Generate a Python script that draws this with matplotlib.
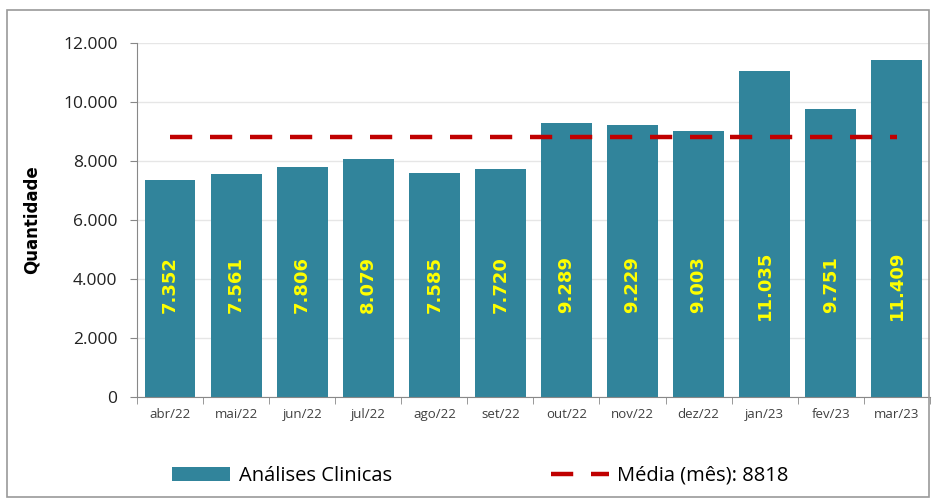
import matplotlib.pyplot as plt
from matplotlib.patches import Rectangle

months = ['abr/22', 'mai/22', 'jun/22', 'jul/22', 'ago/22', 'set/22',
          'out/22', 'nov/22', 'dez/22', 'jan/23', 'fev/23', 'mar/23']
values = [7352, 7561, 7806, 8079, 7585, 7720, 9289, 9229, 9003, 11035, 9751, 11409]
media = 8818
yticks = [0, 2000, 4000, 6000, 8000, 10000, 12000]
ytick_labels = ['0', '2.000', '4.000', '6.000', '8.000', '10.000', '12.000']

bar_color = '#31849B'
red = '#C00000'

fig = plt.figure(figsize=(9.36, 5.01), dpi=100)
ax = fig.add_axes([0.1464, 0.2076, 0.847, 0.7066])

# moldura do grafico
fig.patches.append(Rectangle((7 / 936, 1 - 497 / 501), 922 / 936, 487 / 501,
                             transform=fig.transFigure, fill=False,
                             edgecolor='#9a9a9a', linewidth=1.2))

x = list(range(len(months)))
bars = ax.bar(x, values, width=0.77, color=bar_color, label='Análises Clinicas', zorder=2)
line, = ax.plot([0, len(months) - 1], [media, media], color=red, linewidth=3.2,
                dashes=(5, 4), label='Média (mês): 8818', zorder=3)

for xi, v in zip(x, values):
    txt = f'{v:,}'.replace(',', '.')
    ax.text(xi, 3800, txt, rotation=90, ha='center', va='center',
            color='#FFFF00', fontsize=13, fontweight='bold',
            family='DejaVu Sans', zorder=4)

ax.set_xlim(-0.5, len(months) - 0.5)
ax.set_ylim(0, 12000)
ax.set_yticks(yticks)
ax.set_yticklabels(ytick_labels, fontsize=12.5, family='Open Sans', color='#222222')
ax.set_xticks(x)
ax.set_xticklabels(months, fontsize=9.5, family='Open Sans', color='#404040')
ax.tick_params(axis='x', length=0, pad=8)
ax.set_xticks([i - 0.5 for i in range(len(months) + 1)], minor=True)
ax.tick_params(axis='x', which='minor', length=5, color='#888888')
ax.tick_params(axis='y', length=5, color='#888888', pad=9)

ax.grid(axis='y', color='#e6e6e6', linewidth=1, zorder=0)
ax.set_axisbelow(True)
for s in ['top', 'right']:
    ax.spines[s].set_visible(False)
ax.spines['left'].set_color('#888888')
ax.spines['bottom'].set_color('#888888')

ax.set_ylabel('Quantidade', fontsize=12, fontweight='bold', family='DejaVu Sans')
ax.yaxis.set_label_coords(-0.122, 0.5)

fig.legend([bars, line], ['Análises Clinicas', 'Média (mês): 8818'],
           loc='center left', bbox_to_anchor=(162 / 936, 1 - 476 / 501), ncol=2,
           frameon=False, prop={'family': 'Open Sans', 'size': 14.5},
           handlelength=2.9, handletextpad=0.4, columnspacing=7.9, borderpad=0)

fig.savefig('out.png', dpi=100)
